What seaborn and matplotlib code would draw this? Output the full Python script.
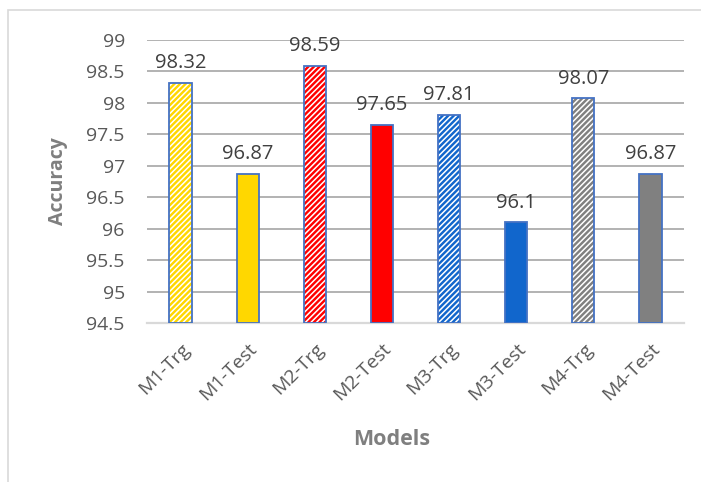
import matplotlib
matplotlib.use("Agg")
import matplotlib.pyplot as plt
import seaborn as sns
import pandas as pd
from matplotlib.patches import Rectangle

# data
models = ["M1-Trg", "M1-Test", "M2-Trg", "M2-Test", "M3-Trg", "M3-Test", "M4-Trg", "M4-Test"]
accuracy = [98.32, 96.87, 98.59, 97.65, 97.81, 96.1, 98.07, 96.87]
bar_colors = ["#FFD700", "#FFD700", "#FF0000", "#FF0000", "#1166CC", "#1166CC", "#808080", "#808080"]
hatched = [True, False, True, False, True, False, True, False]
y_ticks = [94.5, 95, 95.5, 96, 96.5, 97, 97.5, 98, 98.5, 99]

df = pd.DataFrame({"Models": models, "Accuracy": accuracy})

sns.set_style("white")
plt.rcParams["font.family"] = ["Open Sans", "DejaVu Sans"]
plt.rcParams["hatch.linewidth"] = 1.1

fig = plt.figure(figsize=(7.01, 4.82), dpi=100)
ax = fig.add_axes([147 / 701, 1 - 323 / 482, 537 / 701, 283 / 482])

# outer chart border (runs off the right and bottom edges like the original)
fig.patches.append(Rectangle((8 / 701, -0.05), 1.0, 1.05 - 10 / 482,
                             transform=fig.transFigure, fill=False,
                             edgecolor="#D9D9D9", linewidth=1.2))

base = 94.5
df["h"] = [v - base for v in accuracy]

# fill layer with white hatching
sns.barplot(data=df, x="Models", y="h", hue="Models", palette=bar_colors,
            saturation=1, legend=False, width=0.33, bottom=base, ax=ax,
            linewidth=0, zorder=3)
for patch, hat in zip(ax.patches, hatched):
    if hat:
        patch.set_hatch("//////")
        patch.set_edgecolor("white")
        patch.set_linewidth(0)

# outline layer
sns.barplot(data=df, x="Models", y="h", fill=False, width=0.33, bottom=base,
            ax=ax, edgecolor="#4472C4", linewidth=1.3, zorder=4)

for i, v in enumerate(accuracy):
    ax.annotate(f"{v:g}", (i, v), xytext=(0, 7), textcoords="offset points",
                ha="center", va="bottom", fontsize=14.5, color="#404040", zorder=5)

ax.set_ylim(94.5, 99)
ax.set_xlim(-0.5, len(models) - 0.5)
ax.set_yticks(y_ticks)
ax.set_yticklabels([f"{t:g}" for t in y_ticks])
ax.yaxis.grid(True, color="#A6A6A6", linewidth=1.2, zorder=0)
ax.set_axisbelow(True)
for s in ["top", "right", "left"]:
    ax.spines[s].set_visible(False)
ax.spines["bottom"].set_color("#D9D9D9")
ax.spines["bottom"].set_linewidth(1.6)
ax.tick_params(axis="y", length=0, pad=16, labelsize=14, labelcolor="#595959")
ax.tick_params(axis="x", length=0, pad=12, labelsize=14, labelcolor="#595959")
plt.setp(ax.get_xticklabels(), rotation=45, ha="right", rotation_mode="anchor")

ax.set_xlabel("Models", fontsize=15.5, fontweight="bold", color="#7F7F7F")
ax.set_ylabel("Accuracy", fontsize=14, fontweight="bold", color="#7F7F7F")
ax.xaxis.set_label_coords((392 - 147) / 537, -(429 - 323) / 283)
ax.yaxis.set_label_coords(-(147 - 68) / 537, 0.5)

fig.savefig("out.png", dpi=100)
